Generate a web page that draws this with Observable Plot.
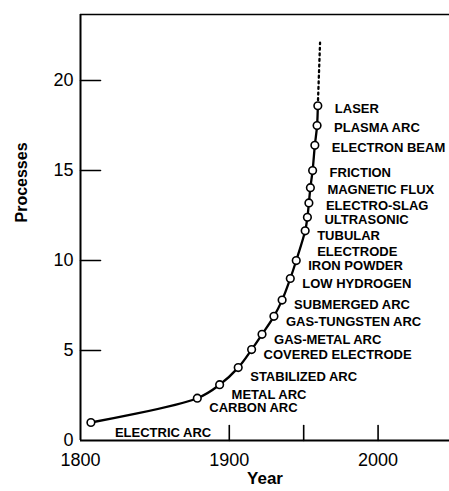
<!DOCTYPE html>
<html>
<head>
<meta charset="utf-8">
<script src="https://cdn.jsdelivr.net/npm/d3@7"></script>
<script src="https://cdn.jsdelivr.net/npm/@observablehq/plot@0.6"></script>
<style>
  html, body { margin: 0; padding: 0; background: #fff; }
  #chart svg { display: block; }
</style>
</head>
<body>
<div id="chart"></div>
<script>
// Data
const processes = [
  "ELECTRIC ARC", "CARBON ARC", "METAL ARC", "STABILIZED ARC", "COVERED ELECTRODE",
  "GAS-METAL ARC", "GAS-TUNGSTEN ARC", "SUBMERGED ARC", "LOW HYDROGEN", "IRON POWDER",
  "TUBULAR\nELECTRODE", "ULTRASONIC", "ELECTRO-SLAG", "MAGNETIC FLUX", "FRICTION",
  "ELECTRON BEAM", "PLASMA ARC", "LASER"
];
const years = [1807, 1878.5, 1893.5, 1906, 1915, 1922, 1930, 1935.5, 1941, 1945,
               1951, 1952.5, 1953.5, 1954.5, 1956, 1957.5, 1959, 1959.5];
const counts = [1, 2.35, 3.1, 4.05, 5.05, 5.9, 6.9, 7.8, 9, 10,
                11.65, 12.4, 13.2, 14.05, 15, 16.4, 17.5, 18.6];
// projected continuation (dotted)
const projectionYear = 1961;
const projectionCount = 22.1;

const yTickValues = [0, 5, 10, 15, 20];
const xTickMarks = [1900, 1950, 2000];
const xTickLabels = [1800, 1900, 2000];

const xDomain = [1800, 2048];
const yDomain = [0, 23.67];

const data = processes.map((name, i) => ({name, year: years[i], count: counts[i], i}));
const projection = [
  {year: years[years.length - 1], count: counts[counts.length - 1]},
  {year: projectionYear, count: projectionCount}
];

const tickShape = {
  draw(context, l) { context.moveTo(0, 0); context.lineTo(0, -l); }
};

const font = "'Liberation Sans', Arial, Helvetica, sans-serif";
const labelStyle = {
  x: "year", y: "count", text: "name",
  textAnchor: "start", lineAnchor: "top", lineHeight: 1.25,
  fontSize: 13, fontWeight: "bold", fill: "#000"
};

const chart = Plot.plot({
  width: 449,
  height: 491,
  marginLeft: 80,
  marginRight: 0,
  marginTop: 14,
  marginBottom: 51,
  style: {fontFamily: font, background: "#fff", color: "#000", overflow: "visible"},
  x: {domain: xDomain},
  y: {domain: yDomain},
  marks: [
    // frame lines
    Plot.ruleY([yDomain[0]], {stroke: "#000", strokeWidth: 2}),
    Plot.ruleY([yDomain[1]], {stroke: "#000", strokeWidth: 1.6}),
    Plot.ruleX([xDomain[0]], {stroke: "#000", strokeWidth: 2}),
    // inward ticks
    Plot.vector(yTickValues.filter(d => d > 0), {
      x: xDomain[0], y: d => d, rotate: 90, length: 20, anchor: "start",
      shape: tickShape, stroke: "#000", strokeWidth: 1.6
    }),
    Plot.vector(xTickMarks, {
      x: d => d, y: yDomain[0], rotate: 0, length: 15, anchor: "start",
      shape: tickShape, stroke: "#000", strokeWidth: 1.6
    }),
    // axis labels
    Plot.axisY(yTickValues, {tickSize: 0, tickPadding: 7, fontSize: 18, label: null}),
    Plot.axisX(xTickLabels, {tickSize: 0, tickPadding: 13, fontSize: 18, label: null, tickFormat: d => String(d)}),
    Plot.text(["Year"], {frameAnchor: "bottom", dy: 43, fontSize: 17, fontWeight: "bold"}),
    Plot.text(["Processes"], {frameAnchor: "left", rotate: -90, dx: -59, dy: -5, fontSize: 16, fontWeight: "bold"}),
    // curve
    Plot.line(data, {x: "year", y: "count", curve: "catmull-rom", stroke: "#000", strokeWidth: 2.3}),
    Plot.line(projection, {x: "year", y: "count", stroke: "#000", strokeWidth: 2.3, strokeDasharray: "2,3.6"}),
    Plot.dot(data, {x: "year", y: "count", r: 3.8, fill: "#fff", stroke: "#000", strokeWidth: 1.6}),
    // labels
    Plot.text(data.filter(d => d.i === 0), {...labelStyle, dx: 24, dy: 8 - 4.7}),
    Plot.text(data.filter(d => d.i >= 1 && d.i <= 3), {...labelStyle, dx: 12, dy: 7 - 4.7}),
    Plot.text(data.filter(d => d.i >= 4 && d.i <= 10), {...labelStyle, dx: 12, dy: 2.5 - 4.7}),
    Plot.text(data.filter(d => d.i >= 11), {...labelStyle, dx: 17, dy: 0 - 4.7})
  ]
});

document.getElementById("chart").appendChild(chart);
</script>
</body>
</html>
